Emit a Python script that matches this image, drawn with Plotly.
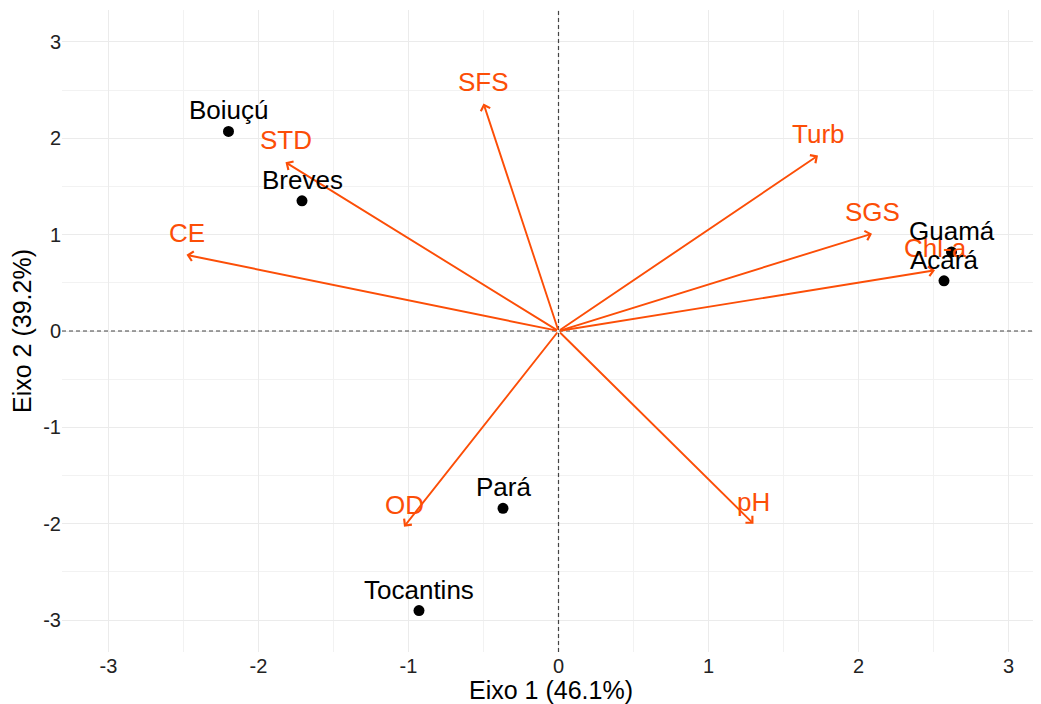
import plotly.graph_objects as go

# Site scores (individuals)
sites = ["Boiuçú", "Breves", "Guamá", "Acará", "Pará", "Tocantins"]
site_x = [-2.20, -1.71, 2.62, 2.57, -0.37, -0.93]
site_y = [2.07, 1.35, 0.82, 0.52, -1.84, -2.90]

# Variable loadings (arrows)
variables = ["SFS", "STD", "CE", "Turb", "SGS", "Chl-a", "pH", "OD"]
var_x = [-0.50, -1.82, -2.48, 1.73, 2.09, 2.51, 1.30, -1.03]
var_y = [2.36, 1.75, 0.79, 1.82, 1.01, 0.63, -2.00, -2.03]

tick_vals = [-3, -2, -1, 0, 1, 2, 3]
x_title = "Eixo 1 (46.1%)"
y_title = "Eixo 2 (39.2%)"

VAR_COL = "#FC4E07"
FONT = "Liberation Sans, Arial, sans-serif"

fig = go.Figure()

fig.add_trace(go.Scatter(
    x=site_x, y=site_y, mode="markers",
    marker=dict(color="black", size=11),
    hoverinfo="text", text=sites, showlegend=False,
))

annotations = []
for v, vx, vy in zip(variables, var_x, var_y):
    annotations.append(dict(
        x=vx, y=vy, ax=0, ay=0, xref="x", yref="y", axref="x", ayref="y",
        text="", showarrow=True, arrowhead=4, arrowsize=1.0, arrowwidth=1.9,
        arrowcolor=VAR_COL,
    ))
for v, vx, vy in zip(variables, var_x, var_y):
    annotations.append(dict(
        x=vx, y=vy, xref="x", yref="y", text=v, showarrow=False, yshift=22,
        font=dict(family=FONT, size=26, color=VAR_COL),
    ))
for s, sx, sy in zip(sites, site_x, site_y):
    annotations.append(dict(
        x=sx, y=sy, xref="x", yref="y", text=s, showarrow=False, yshift=21,
        font=dict(family=FONT, size=26, color="black"),
    ))

shapes = [
    dict(type="line", xref="x", yref="paper", x0=0, x1=0, y0=0, y1=1,
         line=dict(color="#444444", width=1.2, dash="4px,3px"), layer="above"),
    dict(type="line", xref="paper", yref="y", x0=0, x1=1, y0=0, y1=0,
         line=dict(color="#444444", width=1.2, dash="4px,3px"), layer="above"),
]

axis_common = dict(
    tickvals=tick_vals, ticktext=[str(t) for t in tick_vals],
    showgrid=True, gridcolor="#EBEBEB", gridwidth=1.1,
    zeroline=False, showline=False, ticks="", automargin=False,
    tickfont=dict(family=FONT, size=20, color="#222222"),
    minor=dict(dtick=0.5, tick0=0, showgrid=True, gridcolor="#F2F2F2", gridwidth=0.6),
)

# page body adds an 8px offset; size/margins compensate for it
fig.update_layout(
    width=1033, height=696,
    paper_bgcolor="white", plot_bgcolor="white",
    margin=dict(l=54, r=1, t=2, b=52),
    xaxis=dict(range=[-3.31, 3.21], title=dict(text=x_title, font=dict(family=FONT, size=25, color="black"), standoff=2), **axis_common),
    yaxis=dict(range=[-3.33, 3.33], title=dict(text=y_title, font=dict(family=FONT, size=25, color="black"), standoff=4), **axis_common),
    annotations=annotations, shapes=shapes,
    font=dict(family=FONT),
)

fig.write_html("out.html")
